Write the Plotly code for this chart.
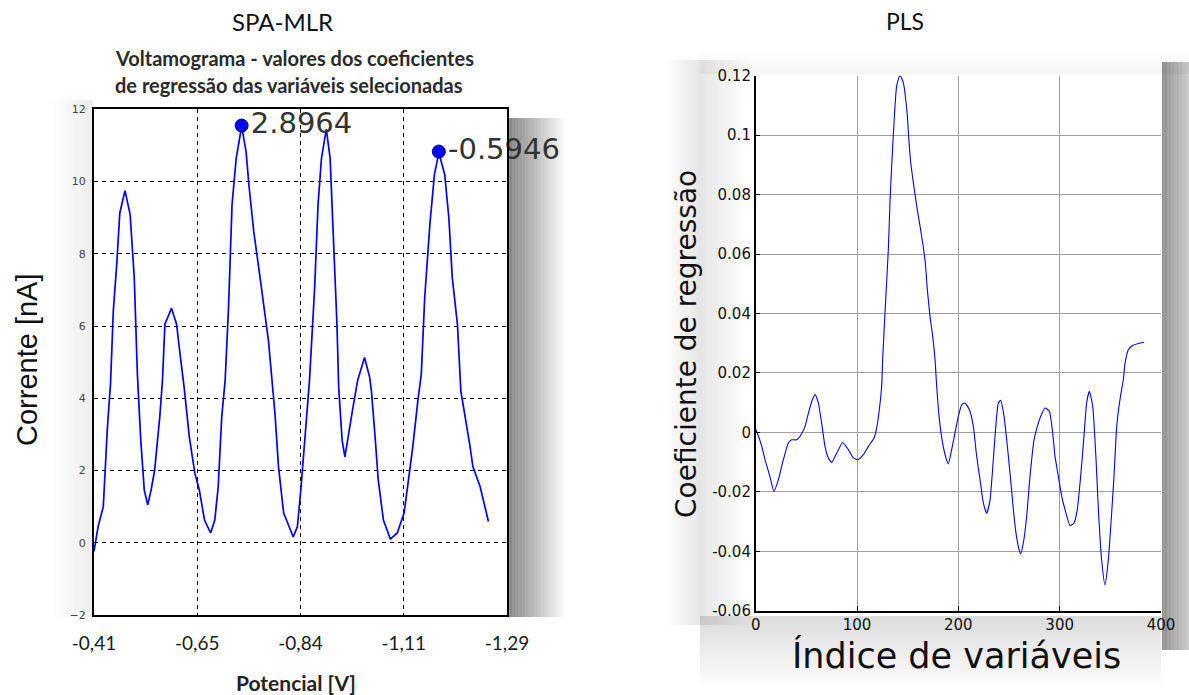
import plotly.graph_objects as go

# ---------------- data: SPA-MLR voltammogram (x = position along potential axis, 0..400) -------------
spa_idx = [0, 4, 9, 13, 16, 17, 18.7, 22, 25, 30,
           35, 39, 42, 45.3, 48.7, 52, 55.3, 58.7, 63.7, 66.3,
           68.7, 75, 80, 83.3, 87.3, 92.3, 97.7, 102, 107, 113,
           117, 120.3, 123.7, 127, 130.3, 133.7, 137.7, 143, 147.3, 150,
           154.7, 160, 165.7, 169, 173, 175.3, 178.7, 183.7, 193, 197,
           200.3, 203.7, 208.7, 213.7, 217, 220.3, 225, 228.7, 232, 235.3,
           237, 240.3, 243, 247, 250.3, 255.3, 262, 267, 268.7, 272,
           275.3, 280.3, 287, 293.7, 300.3, 303.7, 308.7, 313.7, 317, 320.3,
           325.3, 329.7, 334, 339.7, 343.7, 347, 352, 355.3, 360, 364,
           367, 374, 382]
spa_current = [-0.24, 0.45, 1.0, 3.2, 4.4, 5.13, 6.42, 7.7, 9.13, 9.75,
               9.09, 7.34, 4.68, 2.84, 1.46, 1.05, 1.46, 2.0, 3.48, 4.49,
               6.05, 6.49, 6.05, 5.23, 4.3, 2.93, 1.92, 1.46, 0.63, 0.27,
               0.63, 1.55, 3.48, 4.49, 6.51, 9.36, 10.64, 11.53, 10.83, 9.91,
               8.62, 7.52, 6.24, 5.59, 4.3, 3.57, 2.1, 0.82, 0.16, 0.45,
               1.46, 2.65, 4.49, 7.06, 9.36, 10.64, 11.45, 10.64, 8.44, 6.05,
               4.3, 2.84, 2.38, 3.02, 3.66, 4.49, 5.13, 4.58, 4.2, 3.02,
               1.74, 0.63, 0.1, 0.27, 0.82, 1.55, 2.65, 3.94, 4.67, 6.79,
               8.81, 10.19, 10.8, 10.19, 8.99, 7.34, 6.05, 4.2, 3.44, 2.7,
               2.1, 1.55, 0.59]

potential_tickpos = [0, 100, 200, 300, 400]
potential_labels = ["-0,41", "-0,65", "-0,84", "-1,11", "-1,29"]
current_ticks = [-2, 0, 2, 4, 6, 8, 10, 12]

sel_idx = [143, 334]
sel_current = [11.55, 10.83]
sel_labels = ["2.8964", "-0.5946"]

# ---------------- data: PLS regression coefficients ----------------
pls_idx = [0, 1, 6, 9.2, 14, 18, 22.4, 27.3, 32.2, 35.5,
           40.5, 43.8, 48.7, 52, 55.3, 58.6, 61.8, 65.1, 68.4, 71.7,
           75, 79.9, 85.9, 91.4, 96.4, 100.7, 106.3, 111.2, 116.8, 119.4,
           122, 124.3, 125.3, 127.6, 130.9, 132.6, 134.2, 136.5, 139.1, 142.4,
           145.7, 149.7, 150.7, 153, 155.6, 158.9, 162.2, 164.8, 167.4, 169.4,
           172, 174.7, 177, 178.6, 181.3, 184.5, 187.8, 190.1, 193.4, 196.7,
           200, 203.3, 206.6, 210.9, 214.8, 218.1, 221.4, 224.7, 228, 231.3,
           234.5, 237.2, 239.5, 241.8, 245.1, 248.4, 251.6, 254.3, 256.9, 259.2,
           261.5, 264.1, 267.4, 270.7, 274.7, 278, 281.3, 285.5, 289.8, 293.1,
           295.4, 298.7, 302, 305.3, 310.2, 314.1, 317.4, 320.7, 324, 326.6,
           329.3, 332.6, 335.9, 338.2, 341.4, 344.7, 348, 351.3, 353.6, 356.3,
           359.5, 362.8, 364.5, 367.8, 372, 377.6, 383.2]
pls_coef = [0.001, 0.0003, -0.0047, -0.0092, -0.0148, -0.0199, -0.0159, -0.0092, -0.0036, -0.0025,
            -0.0025, -0.0013, 0.002, 0.0065, 0.0104, 0.0127, 0.0099, 0.0031, -0.0047, -0.0086,
            -0.0101, -0.007, -0.0034, -0.0058, -0.0086, -0.0092, -0.0075, -0.0047, -0.0019, 0.0015,
            0.0076, 0.0155, 0.0245, 0.0402, 0.0615, 0.0783, 0.0896, 0.1042, 0.1165, 0.1202,
            0.1176, 0.1064, 0.1008, 0.0907, 0.084, 0.0761, 0.0694, 0.0637, 0.057, 0.048,
            0.0391, 0.0323, 0.0245, 0.0155, 0.0043, -0.0036, -0.0086, -0.0106, -0.0058, -0.0002,
            0.0054, 0.0093, 0.0099, 0.0076, 0.002, -0.0081, -0.0159, -0.0238, -0.0272, -0.0227,
            -0.0092, 0.0031, 0.0099, 0.0108, 0.0054, -0.0047, -0.0159, -0.026, -0.0339, -0.0384,
            -0.0409, -0.0373, -0.0283, -0.0148, -0.0025, 0.002, 0.0054, 0.0082, 0.0071, -0.0002,
            -0.0081, -0.0148, -0.0215, -0.026, -0.0314, -0.0305, -0.026, -0.0148, -0.0013, 0.0099,
            0.0138, 0.0088, -0.0092, -0.026, -0.0429, -0.0513, -0.0429, -0.0272, -0.0148, 0.002,
            0.011, 0.0177, 0.0233, 0.0278, 0.0292, 0.0299, 0.0303]

pls_xticks = [0, 100, 200, 300, 400]
pls_yticks = [-0.06, -0.04, -0.02, 0, 0.02, 0.04, 0.06, 0.08, 0.1, 0.12]
pls_ylabels = ["-0.06", "-0.04", "-0.02", "0", "0.02", "0.04", "0.06", "0.08", "0.1", "0.12"]

# ---------------- figure ----------------
W, H = 1189, 695
def fx(x):
    return x / W
def fy(y):
    return 1 - y / H

fig = go.Figure()

fig.add_trace(go.Scatter(x=spa_idx, y=spa_current, mode="lines",
                         line=dict(color="#0000ff", width=1.7),
                         xaxis="x", yaxis="y", showlegend=False, hoverinfo="skip"))
fig.add_trace(go.Scatter(x=sel_idx, y=sel_current, mode="markers+text",
                         text=sel_labels, textposition="middle right",
                         marker=dict(color="#0000ff", size=13, line=dict(color="#000080", width=1)),
                         textfont=dict(family="DejaVu Sans", size=29, color="#333333"),
                         cliponaxis=False,
                         xaxis="x", yaxis="y", showlegend=False, hoverinfo="skip"))
fig.add_trace(go.Scatter(x=pls_idx, y=pls_coef, mode="lines",
                         line=dict(color="#0000ff", width=1.1, shape="spline", smoothing=0.5),
                         xaxis="x2", yaxis="y2", showlegend=False, hoverinfo="skip"))

shapes = []
def grad_h(x0, x1, y0, y1, a0, a1, n):
    w = (x1 - x0) / n
    for i in range(n):
        a = a0 + (a1 - a0) * (i + 0.5) / n
        shapes.append(dict(type="rect", xref="paper", yref="paper",
                           x0=fx(x0 + i * w), x1=fx(x0 + (i + 1) * w),
                           y0=fy(y1), y1=fy(y0), line=dict(width=0),
                           fillcolor=f"rgba(0,0,0,{a:.3f})", layer="below"))
def grad_v(x0, x1, y0, y1, a0, a1, n):
    h = (y1 - y0) / n
    for i in range(n):
        a = a0 + (a1 - a0) * (i + 0.5) / n
        shapes.append(dict(type="rect", xref="paper", yref="paper",
                           x0=fx(x0), x1=fx(x1),
                           y0=fy(y0 + (i + 1) * h), y1=fy(y0 + i * h),
                           line=dict(width=0),
                           fillcolor=f"rgba(0,0,0,{a:.3f})", layer="below"))

# soft shadows around the pasted images
grad_h(508, 566, 118, 617, 0.5, 0.0, 40)
grad_h(48, 93, 100, 617, 0.0, 0.07, 20)
grad_h(1162, 1189, 62, 650, 0.45, 0.2, 20)
grad_h(664, 700, 60, 625, 0.0, 0.1, 16)
grad_h(700, 748, 60, 625, 0.1, 0.0, 16)
grad_v(700, 1161, 616, 690, 0.14, 0.0, 24)
grad_v(700, 1189, 48, 74, 0.0, 0.04, 10)

annotations = [
    dict(text="SPA-MLR", x=fx(282), y=fy(22), xref="paper", yref="paper",
         xanchor="center", yanchor="middle",
         showarrow=False, font=dict(family="Lato", size=24, color="#111111")),
    dict(text="Voltamograma - valores dos coeficientes", x=fx(113), y=fy(58),
         xref="paper", yref="paper", xanchor="left", yanchor="middle", showarrow=False,
         font=dict(family="Lato", size=20, color="#2a2a2a", weight="bold")),
    dict(text="de regressão das variáveis selecionadas", x=fx(113), y=fy(85),
         xref="paper", yref="paper", xanchor="left", yanchor="middle", showarrow=False,
         font=dict(family="Lato", size=20, color="#2a2a2a", weight="bold")),
    dict(text="Corrente [nA]", x=fx(27), y=fy(360), xref="paper", yref="paper",
         xanchor="center", yanchor="middle",
         showarrow=False, textangle=-90,
         font=dict(family="Liberation Sans", size=29, color="#111111")),
    dict(text="Potencial [V]", x=fx(296), y=fy(682), xref="paper", yref="paper",
         xanchor="center", yanchor="middle",
         showarrow=False, font=dict(family="Lato", size=21, color="#222222", weight="bold")),
    dict(text="PLS", x=fx(905), y=fy(21), xref="paper", yref="paper",
         xanchor="center", yanchor="middle",
         showarrow=False, font=dict(family="Lato", size=23, color="#111111")),
    dict(text="Coeficiente de regressão", x=fx(686), y=fy(344), xref="paper", yref="paper",
         xanchor="center", yanchor="middle",
         showarrow=False, textangle=-90,
         font=dict(family="DejaVu Sans", size=28, color="#111111")),
    dict(text="Índice de variáveis", x=fx(956), y=fy(655), xref="paper", yref="paper",
         xanchor="center", yanchor="middle",
         showarrow=False, font=dict(family="DejaVu Sans", size=35, color="#111111")),
]

fig.update_layout(
    width=W, height=H, autosize=False,
    margin=dict(l=0, r=0, t=0, b=0, pad=0),
    paper_bgcolor="white", plot_bgcolor="white",
    showlegend=False,
    shapes=shapes, annotations=annotations,
    xaxis=dict(domain=[fx(94), fx(507)], range=[0, 400], automargin=False,
               tickmode="array", tickvals=potential_tickpos, ticktext=potential_labels,
               showgrid=True, gridcolor="#000000", griddash="4px,4px", gridwidth=1.3,
               showline=True, mirror=True, linecolor="#000000", linewidth=2,
               ticks="", zeroline=False, ticklabelstandoff=10,
               tickfont=dict(family="Lato", size=19, color="#1a1a1a"), anchor="y"),
    yaxis=dict(domain=[fy(615), fy(109.3)], range=[-2, 12], automargin=False,
               tickmode="array", tickvals=current_ticks,
               showgrid=True, gridcolor="#000000", griddash="4px,4px", gridwidth=1.3,
               showline=True, mirror=True, linecolor="#000000", linewidth=2,
               ticks="", zeroline=False, ticklabelstandoff=4,
               tickfont=dict(family="DejaVu Sans", size=11, color="#444444"), anchor="x"),
    xaxis2=dict(domain=[fx(755.7), fx(1161)], range=[0, 400], automargin=False,
                tickmode="array", tickvals=pls_xticks,
                showgrid=True, gridcolor="#a0a0a0", gridwidth=1,
                showline=True, mirror=False, linecolor="#000000", linewidth=1.5,
                ticks="inside", ticklen=5, tickcolor="#000000", zeroline=False,
                tickfont=dict(family="DejaVu Sans", size=15, color="#111111"), anchor="y2"),
    yaxis2=dict(domain=[fy(610.7), fy(75.7)], range=[-0.06, 0.12], automargin=False,
                tickmode="array", tickvals=pls_yticks, ticktext=pls_ylabels,
                showgrid=True, gridcolor="#a0a0a0", gridwidth=1,
                showline=True, mirror=False, linecolor="#000000", linewidth=1.5,
                ticks="inside", ticklen=5, tickcolor="#000000", zeroline=False,
                tickfont=dict(family="DejaVu Sans", size=15, color="#111111"), anchor="x2"),
)

fig.write_html("out.html")
